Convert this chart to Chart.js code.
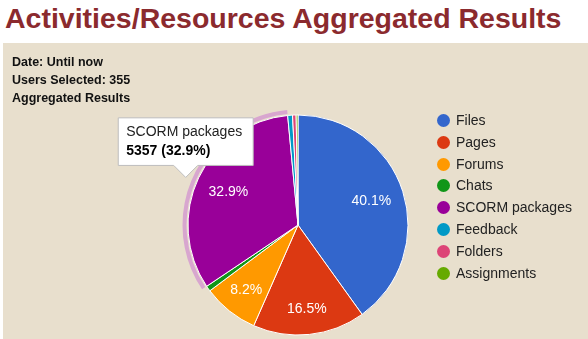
<!DOCTYPE html>
<html>
<head>
<meta charset="utf-8">
<script src="https://cdn.jsdelivr.net/npm/chart.js@4.4.1/dist/chart.umd.min.js"></script>
<style>
  html, body { margin: 0; padding: 0; background: #fff; }
  body { width: 588px; height: 339px; position: relative; overflow: hidden; font-family: "Liberation Sans", Arial, sans-serif; }
  h1 { position: absolute; left: 5px; top: 1px; margin: 0; font-size: 28.5px; font-weight: bold; color: #8b2a2e; line-height: 34px; white-space: nowrap; }
  #panel { position: absolute; left: 3px; top: 43px; width: 585px; height: 296px; background: #e8dfcd; }
  #info { position: absolute; left: 9px; top: 10px; font-size: 12.5px; font-weight: bold; color: #111; line-height: 18px; }
  #chartBox { position: absolute; left: 0; top: 0; width: 585px; height: 296px; }
  #legend { position: absolute; left: 434px; top: 67px; margin: 0; padding: 0; list-style: none; font-size: 14px; color: #222; }
  #legend li { height: 21.8px; line-height: 21.8px; white-space: nowrap; }
  #legend span { display: inline-block; width: 13px; height: 13px; border-radius: 50%; vertical-align: -2px; margin-right: 6px; }
</style>
</head>
<body>
<h1>Activities/Resources Aggregated Results</h1>
<div id="panel">
  <div id="chartBox"><canvas id="activityPie"></canvas></div>
  <div id="info">Date: Until now<br>Users Selected: 355<br>Aggregated Results</div>
  <ul id="legend"></ul>
</div>
<script>
// activity types and their aggregated counts
const categories = ['Files', 'Pages', 'Forums', 'Chats', 'SCORM packages', 'Feedback', 'Folders', 'Assignments'];
const counts = [6528, 2686, 1335, 130, 5357, 115, 85, 44];
const colors = ['#3366cc', '#dc3912', '#ff9900', '#109618', '#990099', '#0099c6', '#dd4477', '#66aa00'];
const highlighted = 4; // slice with the open tooltip

const total = counts.reduce((a, b) => a + b, 0);
const pct = v => (v / total * 100).toFixed(1);

// tooltip hangs just left of the outer edge of the slice, mid angle
Chart.Tooltip.positioners.sliceEdge = function (items) {
    if (!items.length) return false;
    const arc = items[0].element;
    const mid = (arc.startAngle + arc.endAngle) / 2;
    return {
        x: arc.x + Math.cos(mid) * (arc.outerRadius + 1) - 12,
        y: arc.y + Math.sin(mid) * (arc.outerRadius + 1)
    };
};

// percentage text inside the larger slices
const sliceLabels = {
    id: 'sliceLabels',
    afterDatasetsDraw(chart) {
        const ctx = chart.ctx;
        const meta = chart.getDatasetMeta(0);
        ctx.save();
        ctx.font = '14px "Liberation Sans", Arial, sans-serif';
        ctx.fillStyle = '#fff';
        ctx.textAlign = 'center';
        ctx.textBaseline = 'middle';
        meta.data.forEach((arc, i) => {
            const v = counts[i] / total;
            if (v < 0.05) return;
            const mid = (arc.startAngle + arc.endAngle) / 2;
            // push labels a bit further out when they sit below the centre
            const r = arc.outerRadius * 0.7 + Math.max(0, Math.sin(mid)) * 8;
            ctx.fillText(pct(counts[i]) + '%', arc.x + Math.cos(mid) * r, arc.y + Math.sin(mid) * r);
        });
        ctx.restore();
    }
};

// pale ring around the selected slice
const sliceHalo = {
    id: 'sliceHalo',
    afterDatasetsDraw(chart) {
        const arc = chart.getDatasetMeta(0).data[highlighted];
        if (!arc) return;
        const ctx = chart.ctx;
        ctx.save();
        ctx.beginPath();
        ctx.arc(arc.x, arc.y, arc.outerRadius + 5.5, arc.startAngle, arc.endAngle);
        ctx.arc(arc.x, arc.y, arc.outerRadius + 1.5, arc.endAngle, arc.startAngle, true);
        ctx.closePath();
        ctx.fillStyle = '#d8a6cf';
        ctx.fill();
        ctx.restore();
    }
};

const chart = new Chart(document.getElementById('activityPie'), {
    type: 'pie',
    data: {
        labels: categories,
        datasets: [{
            data: counts,
            backgroundColor: colors,
            borderColor: '#ffffff',
            borderWidth: 1,
            hoverOffset: 0
        }]
    },
    options: {
        responsive: true,
        maintainAspectRatio: false,
        animation: false,
        events: [],
        radius: 110,
        layout: { padding: { left: 180, right: 175, top: 71, bottom: 3 } },
        plugins: {
            legend: { display: false },
            tooltip: {
                animation: false,
                position: 'sliceEdge',
                xAlign: 'center',
                yAlign: 'bottom',
                backgroundColor: '#ffffff',
                borderColor: '#bdbdbd',
                borderWidth: 1,
                cornerRadius: 0,
                caretSize: 12,
                caretPadding: 0,
                padding: { left: 8, right: 11, top: 6, bottom: 6 },
                displayColors: false,
                titleColor: '#222',
                titleFont: { family: '"Liberation Sans", Arial, sans-serif', size: 14, weight: 'normal' },
                titleMarginBottom: 2,
                bodyColor: '#000',
                bodyFont: { family: '"Liberation Sans", Arial, sans-serif', size: 14, weight: 'bold' },
                callbacks: {
                    title: items => items[0].label,
                    label: item => item.raw + ' (' + pct(item.raw) + '%)'
                }
            }
        }
    },
    plugins: [sliceHalo, sliceLabels]
});

chart.tooltip.setActiveElements([{ datasetIndex: 0, index: highlighted }], { x: 0, y: 0 });
chart.update();

// legend list from the chart data
const legend = document.getElementById('legend');
chart.data.labels.forEach((name, i) => {
    const li = document.createElement('li');
    const dot = document.createElement('span');
    dot.style.background = chart.data.datasets[0].backgroundColor[i];
    li.appendChild(dot);
    li.appendChild(document.createTextNode(name));
    legend.appendChild(li);
});
</script>
</body>
</html>
